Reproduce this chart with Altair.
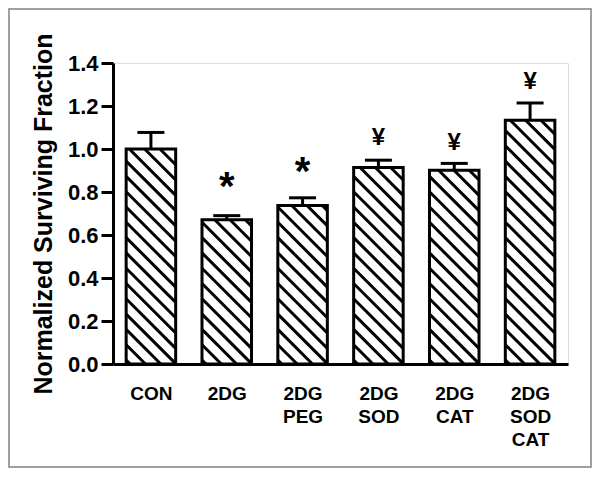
import json
import altair as alt
import pandas as pd

# ---- data ----
categories = ["CON", "2DG", "2DG PEG", "2DG SOD", "2DG CAT", "2DG SOD CAT"]
means = [1.00, 0.671, 0.737, 0.914, 0.901, 1.134]
errors = [0.077, 0.019, 0.036, 0.034, 0.032, 0.080]
symbols = ["", "*", "*", "¥", "¥", "¥"]
symbol_y = [0.0, 0.871, 0.941, 1.057, 1.034, 1.318]
y_ticks = [0.0, 0.2, 0.4, 0.6, 0.8, 1.0, 1.2, 1.4]

# ---- layout / style constants ----
W, H = 455, 301
YMAX = 1.4
N = len(categories)
BAR_W = 0.653          # bar width in category units
CAP_HALF = 0.178       # half width of error cap in category units
HATCH_STEP = 15.3      # vertical distance between hatch lines (px)
PPX = W / N
PPY = H / YMAX
FONT = "Liberation Sans"

df = pd.DataFrame({
    "idx": list(range(N)),
    "cat": categories,
    "mean": means,
    "err": errors,
    "sym": symbols,
    "sym_y": symbol_y,
})
df["center"] = df["idx"] + 0.5
df["left"] = df["center"] - BAR_W / 2
df["right"] = df["center"] + BAR_W / 2
df["top"] = df["mean"] + df["err"]
df["cap_l"] = df["center"] - CAP_HALF
df["cap_r"] = df["center"] + CAP_HALF

label_list = json.dumps(categories)
x_scale = alt.Scale(domain=[0, N], nice=False, zero=False)
y_scale = alt.Scale(domain=[0, YMAX], nice=False)

x_axis = alt.Axis(
    values=[i + 0.5 for i in range(N)],
    labelExpr=f"split({label_list}[floor(datum.value)], ' ')",
    ticks=False, grid=False, title=None,
    domainWidth=3, domainColor="black",
    labelFont=FONT, labelFontSize=19, labelFontWeight="bold", labelColor="black",
    labelLineHeight=23.3, labelPadding=20, labelFlush=False, labelOverlap=False,
    labelBaseline="top",
)
y_axis = alt.Axis(
    values=y_ticks, format=".1f", grid=False,
    title="Normalized Surviving Fraction",
    titleFont=FONT, titleFontSize=25, titleFontWeight="bold", titleColor="black",
    titlePadding=11,
    domainWidth=3, domainColor="black",
    tickSize=12, tickWidth=3, tickColor="black",
    labelFont=FONT, labelFontSize=22, labelFontWeight="bold", labelColor="black",
    labelPadding=3, labelFlush=False,
)

base = alt.Chart(df)

hatch = base.transform_calculate(
    u0=f"datum.left * {PPX}",
    u1=f"datum.right * {PPX}",
    hv=f"datum.mean * {PPY}",
).transform_calculate(
    ks=f"sequence(0, ceil((datum.u1 - datum.u0 + datum.hv) / {HATCH_STEP}) + 1)"
).transform_flatten(["ks"]).transform_calculate(
    c=f"datum.u0 + datum.ks * {HATCH_STEP} + 4"
).transform_calculate(
    ua="max(datum.u0, datum.c - datum.hv)",
    ub="min(datum.u1, datum.c)",
).transform_filter("datum.ua < datum.ub").transform_calculate(
    hx=f"datum.ua / {PPX}",
    hy=f"(datum.c - datum.ua) / {PPY}",
    hx2=f"datum.ub / {PPX}",
    hy2=f"(datum.c - datum.ub) / {PPY}",
).mark_rule(strokeWidth=3, color="black", strokeCap="butt").encode(
    x=alt.X("hx:Q", scale=x_scale, axis=x_axis),
    x2="hx2:Q",
    y=alt.Y("hy:Q", scale=y_scale, axis=y_axis),
    y2="hy2:Q",
)

bars = base.mark_rect(fillOpacity=0, stroke="black", strokeWidth=3, strokeJoin="miter").encode(
    x=alt.X("left:Q", scale=x_scale, axis=x_axis),
    x2="right:Q",
    y=alt.Y("mean:Q", scale=y_scale, axis=y_axis),
    y2=alt.datum(0),
)

err_line = base.mark_rule(strokeWidth=3, color="black").encode(
    x=alt.X("center:Q", scale=x_scale, axis=x_axis),
    y=alt.Y("mean:Q", scale=y_scale, axis=y_axis),
    y2="top:Q",
)

err_cap = base.mark_rule(strokeWidth=3, color="black", strokeCap="butt").encode(
    x=alt.X("cap_l:Q", scale=x_scale, axis=x_axis),
    x2="cap_r:Q",
    y=alt.Y("top:Q", scale=y_scale, axis=y_axis),
)

ast_size = 40
stars = base.transform_filter("datum.sym == '*'").mark_text(
    font=FONT, fontSize=ast_size, fontWeight="bold", color="black",
    baseline="alphabetic", align="center", dy=0.58 * ast_size,
).encode(
    x=alt.X("center:Q", scale=x_scale, axis=x_axis),
    y=alt.Y("sym_y:Q", scale=y_scale, axis=y_axis),
    text="sym:N",
)

yen_size = 24
yens = base.transform_filter("datum.sym == '¥'").mark_text(
    font=FONT, fontSize=yen_size, fontWeight="bold", color="black",
    baseline="alphabetic", align="center", dy=0.358 * yen_size,
).encode(
    x=alt.X("center:Q", scale=x_scale, axis=x_axis),
    y=alt.Y("sym_y:Q", scale=y_scale, axis=y_axis),
    text="sym:N",
)

frame = alt.Chart(pd.DataFrame({"f": [0]})).mark_rect(
    fillOpacity=0, stroke="#808080", strokeWidth=1.5
).encode(
    x=alt.value(-104), x2=alt.value(478),
    y=alt.value(-54), y2=alt.value(404),
)

chart = alt.layer(hatch, bars, err_line, err_cap, stars, yens, frame).properties(
    width=W, height=H, padding=0, background="white"
).configure_view(stroke="transparent").configure(font=FONT)

chart.save("out.html", embed_options={"renderer": "svg", "actions": False})
